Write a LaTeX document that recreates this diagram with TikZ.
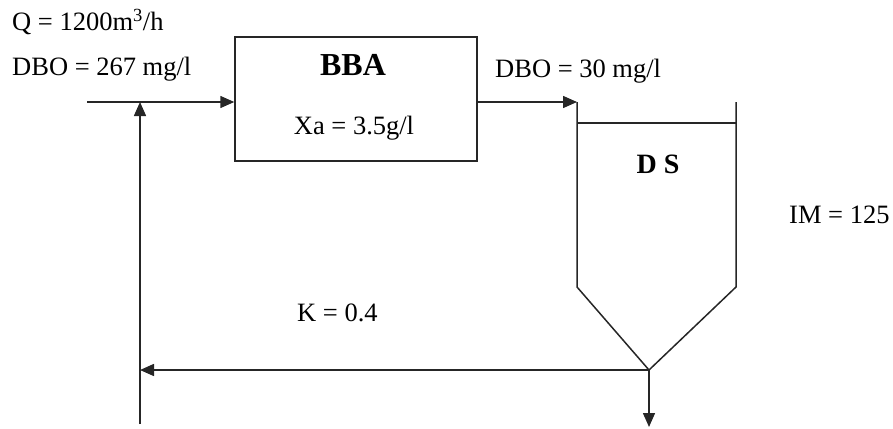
\documentclass[tikz,border=0pt]{standalone}
\usepackage{fontspec}
\setmainfont{Liberation Serif}
\usetikzlibrary{arrows.meta}
\tikzset{
  wire/.style={line width=1.5pt, draw=black!85},
  flow/.style={wire, -{Triangle[length=14pt,width=12pt]}},
  lbl/.style={font=\fontsize{26.5}{30}\selectfont, inner sep=0pt, anchor=west},
  ttl/.style={font=\fontsize{32}{36}\selectfont\bfseries, inner sep=0pt},
  dsl/.style={font=\fontsize{28}{32}\selectfont\bfseries, inner sep=0pt},
}
\begin{document}
\begin{tikzpicture}[x=1pt,y=-1pt]
\useasboundingbox (0,0) rectangle (893,428);
% texts
\node[lbl] (q) at (12,22) {Q = 1200m\textsuperscript{3}/h};
\node[lbl] (dboin) at (12,69) {DBO = 267 mg/l};
\node[lbl] (dboout) at (495,71) {DBO = 30 mg/l};
\node[lbl] (im) at (789,215) {IM = 125};
\node[lbl] (k) at (297,313) {K = 0.4};
% reactor
\node[wire, draw, minimum width=242pt, minimum height=124pt, inner sep=0pt] (bba) at (356,99) {};
\node[ttl] (bbat) at (353,65) {BBA};
\node[lbl, anchor=center] (xa) at (354,128) {Xa = 3.5g/l};
% settler
\coordinate (tl) at (577,102);
\coordinate (tr) at (736,102);
\coordinate (wl) at (577,287);
\coordinate (wr) at (736,287);
\coordinate (apex) at (649,370);
\coordinate (sl) at (577,123);
\coordinate (sr) at (736,123);
\draw[wire] (tl) -- (wl) -- (apex) -- (wr) -- (tr);
\draw[wire] (sl) -- (sr);
\node[dsl] (ds) at (658,164) {D S};
% flows
\coordinate (in) at (87,102);
\draw[flow] (in) -- (in -| bba.west);
\draw[flow] (bba.east |- tl) -- (tl);
\coordinate (rl) at (140,370);
\coordinate (rb) at (140,424);
\coordinate (rt) at (140,102);
\coordinate (out) at (649,427);
\draw[flow] (apex) -- (rl);
\draw[flow] (rb) -- (rt);
\draw[flow] (apex) -- (out);
\end{tikzpicture}
\end{document}
